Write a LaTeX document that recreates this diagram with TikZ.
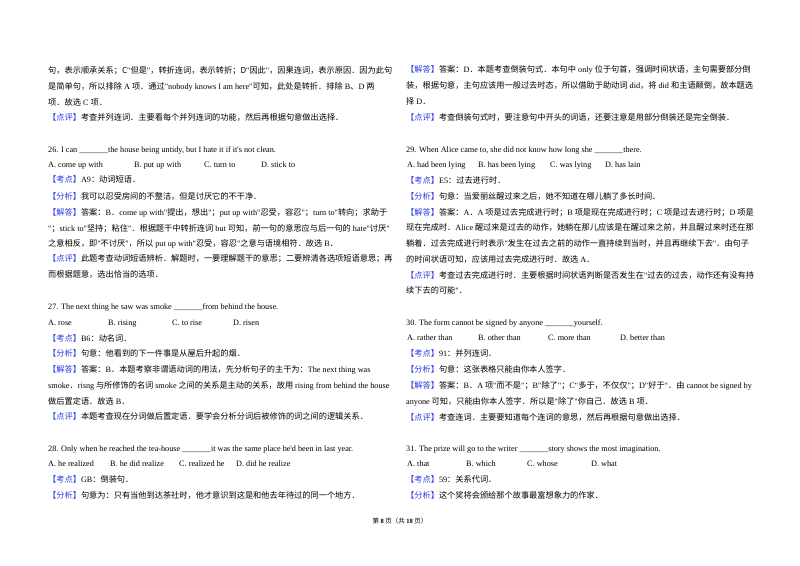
\documentclass[tikz,border=0pt]{standalone}
\usepackage{fontspec}
\setmainfont{Noto Sans CJK SC}
\newfontfamily\en{Liberation Serif}[Scale=1.0]
\definecolor{lab}{RGB}{40,60,230}
\newcounter{lnc}
\newcommand{\TL}[3]{\stepcounter{lnc}\node[txt] (n\arabic{lnc}) at (#1,#2) {#3};}
\newcommand{\tag}[1]{{\color{lab}【#1】}}
\newcommand{\E}[1]{{\en #1}}
\begin{document}
\begin{tikzpicture}[x=1pt,y=-1pt,txt/.style={anchor=base west,inner sep=0,font=\fontsize{8.2}{10}\selectfont}]
\fill[white] (0,0) rectangle (800,565);
\useasboundingbox (0,0) rectangle (800,565);
% left column
\TL{48}{73}{句，表示顺承关系；C\E{"}但是\E{"}，转折连词，表示转折；D\E{"}因此\E{"}，因果连词，表示原因．因为此句}
\TL{48}{89}{是简单句，所以排除\E{ A }项．通过\E{"nobody knows I am here"}可知，此处是转折．排除\E{ B}、\E{D }两}
\TL{48}{105}{项．故选\E{ C }项．}
\TL{48}{120}{\tag{点评}考查并列连词．主要看每个并列连词的功能，然后再根据句意做出选择．}
\TL{48}{152}{\E{26. I can \_\_\_\_\_\_\_the house being untidy, but I hate it if it's not clean.}}
\TL{48}{167}{\E{A. come up with}}
\TL{134}{167}{\E{B. put up with}}
\TL{204}{167}{\E{C. turn to}}
\TL{261}{167}{\E{D. stick to}}
\TL{48}{182}{\tag{考点}\E{A9}：动词短语．}
\TL{48}{199}{\tag{分析}我可以忍受房间的不整洁，但是讨厌它的不干净．}
\TL{48}{215}{\tag{解答}答案：\E{B}．\E{come up with"}提出，想出\E{"}；\E{put up with"}忍受，容忍\E{"}；\E{turn to"}转向；求助于}
\TL{48}{231}{\E{"}；\E{stick to"}坚持；粘住\E{"}．根据题干中转折连词\E{ but }可知，前一句的意思应与后一句的\E{ hate"}讨厌\E{"}}
\TL{48}{246}{之意相反，即\E{"}不讨厌\E{"}，所以\E{ put up with"}忍受，容忍\E{"}之意与语境相符．故选\E{ B}．}
\TL{48}{261}{\tag{点评}此题考查动词短语辨析．解题时，一要理解题干的意思；二要辨清各选项短语意思；再}
\TL{48}{277}{而根据题意，选出恰当的选项．}
\TL{48}{309}{\E{27. The next thing he saw was smoke \_\_\_\_\_\_\_from behind the house.}}
\TL{48}{325}{\E{A. rose}}
\TL{108}{325}{\E{B. rising}}
\TL{172}{325}{\E{C. to rise}}
\TL{233}{325}{\E{D. risen}}
\TL{48}{341}{\tag{考点}\E{B6}：动名词．}
\TL{48}{356}{\tag{分析}句意：他看到的下一件事是从屋后升起的烟．}
\TL{48}{372}{\tag{解答}答案：\E{B}．本题考察非谓语动词的用法，先分析句子的主干为：\E{The next thing was}}
\TL{48}{388}{\E{smoke}．\E{risng} 与所修饰的名词 \E{smoke} 之间的关系是主动的关系，故用 \E{rising from behind the house}}
\TL{48}{404}{做后置定语．故选\E{ B}．}
\TL{48}{419}{\tag{点评}本题考查现在分词做后置定语．要学会分析分词后被修饰的词之间的逻辑关系．}
\TL{48}{451}{\E{28. Only when he reached the tea-house \_\_\_\_\_\_\_it was the same place he'd been in last year.}}
\TL{48}{466}{\E{A. he realized}}
\TL{110}{466}{\E{B. he did realize}}
\TL{179}{466}{\E{C. realized he}}
\TL{236}{466}{\E{D. did he realize}}
\TL{48}{482}{\tag{考点}\E{GB}：倒装句．}
\TL{48}{498}{\tag{分析}句意为：只有当他到达茶社时，他才意识到这是和他去年待过的同一个地方．}
% right column
\TL{406}{72}{\tag{解答}答案：\E{D}．本题考查倒装句式．本句中\E{ only }位于句首，强调时间状语，主句需要部分倒}
\TL{406}{88}{装，根据句意，主句应该用一般过去时态，所以借助于助动词\E{ did}，将\E{ did }和主语颠倒，故本题选}
\TL{406}{104}{择\E{ D}．}
\TL{406}{120}{\tag{点评}考查倒装句式时，要注意句中开头的词语，还要注意是用部分倒装还是完全倒装．}
\TL{406}{152}{\E{29. When Alice came to, she did not know how long she \_\_\_\_\_\_\_there.}}
\TL{407}{167}{\E{A. had been lying}}
\TL{478}{167}{\E{B. has been lying}}
\TL{550}{167}{\E{C. was lying}}
\TL{605}{167}{\E{D. has lain}}
\TL{406}{183}{\tag{考点}\E{E5}：过去进行时．}
\TL{406}{199}{\tag{分析}句意：当爱丽丝醒过来之后，她不知道在哪儿躺了多长时间．}
\TL{406}{215}{\tag{解答}答案：\E{A}．\E{A} 项是过去完成进行时；\E{B} 项是现在完成进行时；\E{C} 项是过去进行时；\E{D} 项是}
\TL{406}{230}{现在完成时．\E{Alice} 醒过来是过去的动作，她躺在那儿应该是在醒过来之前，并且醒过来时还在那}
\TL{406}{246}{躺着．过去完成进行时表示\E{"}发生在过去之前的动作一直持续到当时，并且再继续下去\E{"}．由句子}
\TL{406}{262}{的时间状语可知，应该用过去完成进行时．故选\E{ A}．}
\TL{406}{278}{\tag{点评}考查过去完成进行时．主要根据时间状语判断是否发生在\E{"}过去的过去，动作还有没有持}
\TL{406}{293}{续下去的可能\E{"}．}
\TL{406}{325}{\E{30. The form cannot be signed by anyone \_\_\_\_\_\_\_yourself.}}
\TL{407}{340}{\E{A. rather than}}
\TL{478}{340}{\E{B. other than}}
\TL{548}{340}{\E{C. more than}}
\TL{620}{340}{\E{D. better than}}
\TL{406}{356}{\tag{考点}\E{91}：并列连词．}
\TL{406}{372}{\tag{分析}句意：这张表格只能由你本人签字．}
\TL{406}{388}{\tag{解答}答案：\E{B}．\E{A} 项\E{"}而不是\E{"}；\E{B"}除了\E{"}；\E{C"}多于，不仅仅\E{"}；\E{D"}好于\E{"}．由\E{ cannot be signed by}}
\TL{406}{404}{\E{anyone} 可知，只能由你本人签字．所以是\E{"}除了\E{"}你自己．故选\E{ B }项．}
\TL{406}{420}{\tag{点评}考查连词．主要要知道每个连词的意思，然后再根据句意做出选择．}
\TL{406}{451}{\E{31. The prize will go to the writer \_\_\_\_\_\_\_story shows the most imagination.}}
\TL{407}{466}{\E{A. that}}
\TL{466}{466}{\E{B. which}}
\TL{527}{466}{\E{C. whose}}
\TL{591}{466}{\E{D. what}}
\TL{406}{482}{\tag{考点}\E{59}：关系代词．}
\TL{406}{498}{\tag{分析}这个奖将会颁给那个故事最富想象力的作家．}
% footer
\node[anchor=base,inner sep=0,font=\fontsize{6.5}{8}\selectfont] (foot) at (400,523) {第 \textbf{\E{8}} 页（共 \textbf{\E{18}} 页）};
\end{tikzpicture}
\end{document}
